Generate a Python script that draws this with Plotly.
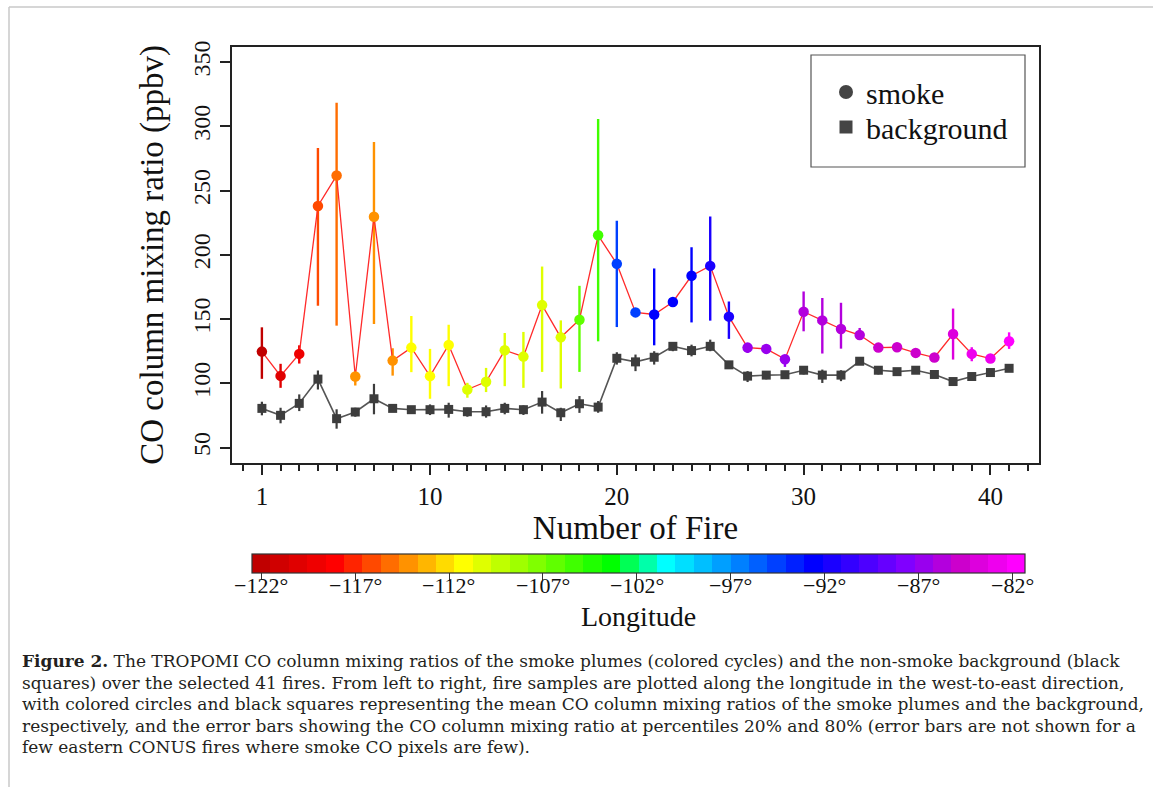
import plotly.graph_objects as go

# ---------------- data ----------------
fire_no = list(range(1, 42))

smoke_mean = [124.7, 105.8, 122.9, 238.0, 261.7, 105.3, 229.7, 117.7, 127.8, 105.6,
              129.9, 95.2, 101.2, 125.7, 120.8, 160.9, 135.8, 149.5, 215.2, 193.0,
              155.2, 153.6, 163.3, 183.7, 191.4, 151.9, 127.8, 126.8, 118.8, 155.7,
              149.0, 142.3, 137.6, 127.8, 128.1, 123.7, 120.1, 138.4, 122.9, 119.3,
              132.7]
smoke_p80 = [143.6, 115.2, 129.6, 283.2, 318.4, 108.7, 287.8, 127.3, 152.4, 126.8,
             145.6, 100.4, 112.0, 139.2, 140.0, 190.9, 149.0, 175.9, 305.7, 226.6,
             None, 189.4, None, 205.9, 229.9, 163.7, 130.1, None, 121.6, 171.5,
             166.4, 162.7, 143.1, None, None, None, None, 158.2, 128.1, None,
             139.7]
smoke_p20 = [103.5, 96.5, 115.4, 160.4, 144.9, 98.3, 146.2, 106.0, 108.7, 88.0,
             97.8, 88.8, 93.2, 97.8, 96.5, 108.9, 96.0, 108.9, 132.7, 143.8,
             None, 129.6, None, 147.4, 148.8, 134.6, 123.6, None, 112.8, 140.5,
             123.2, 127.0, 134.1, None, None, None, None, 118.5, 117.2, None,
             126.8]

bg_mean = [80.5, 75.1, 84.4, 103.3, 72.5, 77.7, 88.0, 80.5, 79.5, 79.5,
           79.7, 77.9, 77.9, 80.5, 79.5, 85.4, 77.1, 84.1, 81.5, 119.5,
           116.7, 120.3, 128.8, 125.5, 128.8, 114.4, 105.6, 106.4, 106.7, 110.2,
           106.4, 106.4, 117.2, 110.2, 109.1, 110.2, 106.9, 101.4, 105.3, 108.4,
           111.7]
bg_p80 = [85.7, 81.0, 91.4, 110.0, 79.8, 81.0, 99.6, 81.5, 80.5, 83.6,
          84.9, 81.0, 82.8, 84.9, 82.8, 94.0, 81.0, 90.1, 86.2, 124.2,
          122.4, 125.0, 131.4, 130.1, 134.0, 117.0, 109.5, 109.5, 109.2, 113.3,
          110.7, 110.2, None, 113.3, 111.0, 112.0, 108.5, 103.0, 107.0, 110.0,
          113.5]
bg_p20 = [75.1, 68.9, 78.4, 95.2, 64.7, 74.0, 75.9, 79.0, 78.5, 75.3,
          73.3, 74.0, 73.3, 75.9, 75.4, 76.4, 70.7, 77.0, 77.1, 114.6,
          109.5, 114.6, 125.0, 121.0, 125.0, 112.0, 101.0, 103.1, 103.5, 106.9,
          100.3, 101.7, None, 106.9, 107.5, 108.5, 105.5, 100.0, 103.5, 107.0,
          110.0]

# longitude of each fire
fire_lon = [-121.6, -120.1, -119.1, -116.1, -115.1, -114.5, -114.3, -113.9, -111.5, -111.3,
            -111.0, -110.6, -110.4, -110.2, -110.0, -109.9, -109.8, -106.3, -105.3, -94.5,
            -94.3, -92.9, -92.6, -92.3, -91.9, -91.5, -87.1, -86.8, -86.4, -86.1,
            -85.9, -85.6, -85.4, -85.1, -84.8, -84.5, -84.4, -83.8, -83.0, -82.5,
            -81.8]

lon_ticks = [-122, -117, -112, -107, -102, -97, -92, -87, -82]
y_ticks = [50, 100, 150, 200, 250, 300, 350]
x_ticks = [1, 10, 20, 30, 40]

caption_lines = [
    "<b>Figure 2.</b> The TROPOMI CO column mixing ratios of the smoke plumes (colored cycles) and the non-smoke background (black",
    "squares) over the selected 41 fires. From left to right, fire samples are plotted along the longitude in the west-to-east direction,",
    "with colored circles and black squares representing the mean CO column mixing ratios of the smoke plumes and the background,",
    "respectively, and the error bars showing the CO column mixing ratio at percentiles 20% and 80% (error bars are not shown for a",
    "few eastern CONUS fires where smoke CO pixels are few).",
]

# ---------------- discrete rainbow palette for the colour bar ----------------
N_BINS = 42
CMIN = -122.5
BW = 0.98
CMAX = CMIN + N_BINS * BW
anchors = {0: (192, 0, 0), 4: (255, 0, 0), 11: (255, 255, 0), 19: (0, 255, 0),
           22: (0, 255, 255), 30: (0, 0, 255), 35: (128, 0, 255), 38: (204, 0, 204),
           41: (255, 0, 255)}
akeys = sorted(anchors)


def bin_rgb(b):
    for k0, k1 in zip(akeys[:-1], akeys[1:]):
        if k0 <= b <= k1:
            t = (b - k0) / (k1 - k0)
            c0, c1 = anchors[k0], anchors[k1]
            return tuple(round(c0[i] + (c1[i] - c0[i]) * t) for i in range(3))
    return anchors[akeys[-1]]


bin_colors = ["rgb(%d,%d,%d)" % bin_rgb(b) for b in range(N_BINS)]
colorscale = []
for i, c in enumerate(bin_colors):
    colorscale.append([i / N_BINS, c])
    colorscale.append([(i + 1) / N_BINS, c])


def lon_color(lon):
    b = int((lon - CMIN) / BW)
    b = max(0, min(N_BINS - 1, b))
    return bin_colors[b]


# ---------------- figure ----------------
W, H = 1153, 787
fig = go.Figure()

DARK = "#3d3d3d"

# colour bar geometry (pixels)
CB_X0, CB_X1 = 251.7, 1025.0
CB_TOP, CB_THICK = 554.0, 19.4

# background line
fig.add_trace(go.Scatter(x=fire_no, y=bg_mean, mode="lines",
                         line=dict(color="#555555", width=1.6),
                         showlegend=False, hoverinfo="skip"))
# background error bars + squares
plus = [(h - m) if h is not None else 0 for h, m in zip(bg_p80, bg_mean)]
minus = [(m - l) if l is not None else 0 for l, m in zip(bg_p20, bg_mean)]
fig.add_trace(go.Scatter(x=fire_no, y=bg_mean, mode="markers",
                         marker=dict(symbol="square", size=9, color=DARK),
                         error_y=dict(type="data", array=plus, arrayminus=minus,
                                      color=DARK, thickness=2.2, width=0),
                         showlegend=False, hoverinfo="skip"))

# smoke error bars (coloured per fire)
for n, lo, hi, lon in zip(fire_no, smoke_p20, smoke_p80, fire_lon):
    if lo is None or hi is None:
        continue
    fig.add_trace(go.Scatter(x=[n, n], y=[lo, hi], mode="lines",
                             line=dict(color=lon_color(lon), width=2.4),
                             showlegend=False, hoverinfo="skip"))

# smoke line
fig.add_trace(go.Scatter(x=fire_no, y=smoke_mean, mode="lines",
                         line=dict(color="#ff2a2a", width=1.3),
                         showlegend=False, hoverinfo="skip"))

# smoke markers coloured by longitude (with colour bar)
fig.add_trace(go.Scatter(
    x=fire_no, y=smoke_mean, mode="markers",
    marker=dict(size=10.5, color=fire_lon, colorscale=colorscale, cmin=CMIN, cmax=CMAX,
                line=dict(width=0),
                showscale=True,
                colorbar=dict(orientation="h",
                              x=(CB_X0 + CB_X1) / 2 / W, xanchor="center",
                              y=1 - CB_TOP / H, yanchor="top",
                              len=(CB_X1 - CB_X0) / W, lenmode="fraction",
                              thickness=CB_THICK, thicknessmode="pixels",
                              outlinewidth=1.2, outlinecolor="#333333",
                              ticks="outside", ticklen=7, tickwidth=1.2, tickcolor="#333333",
                              tickvals=lon_ticks, showticklabels=False,
                              xpad=0, ypad=0)),
    showlegend=False, hoverinfo="skip"))

# legend entries (two single-item legends so the spacing matches)
fig.add_trace(go.Scatter(x=[None], y=[None], mode="markers", name="smoke",
                         marker=dict(symbol="circle", size=14, color="#444444"),
                         legend="legend"))
fig.add_trace(go.Scatter(x=[None], y=[None], mode="markers", name="background",
                         marker=dict(symbol="square", size=13, color="#444444"),
                         legend="legend2"))

axis_font = dict(family="Liberation Serif", size=25, color="#111111")

fig.update_xaxes(domain=[232 / W, 1039 / W], range=[-0.6, 42.6],
                 showline=True, mirror=True, linecolor="#222222", linewidth=2,
                 ticks="outside", tickvals=x_ticks, ticklen=10, tickwidth=1.5, tickcolor="#222222",
                 minor=dict(dtick=1, tick0=0, ticks="outside", ticklen=6, tickwidth=1.5,
                            tickcolor="#222222", showgrid=False),
                 showgrid=False, zeroline=False, tickfont=axis_font,
                 title=dict(text="Number of Fire", standoff=0,
                            font=dict(family="Liberation Serif", size=33, color="#111111")))
fig.update_yaxes(domain=[1 - 463 / H, 1 - 46.7 / H], range=[38, 362],
                 showline=True, mirror=True, linecolor="#222222", linewidth=2,
                 ticks="outside", tickvals=y_ticks, ticklen=10, tickwidth=1.5, tickcolor="#222222",
                 tickangle=-90, showgrid=False, zeroline=False,
                 tickfont=dict(family="Liberation Serif", size=24, color="#111111"),
                 title=dict(text="CO column mixing ratio (ppbv)", standoff=16,
                            font=dict(family="Liberation Serif", size=33, color="#111111")))

annotations = []
# colour bar tick labels and title
for v in lon_ticks:
    xp = CB_X0 + (v - CMIN) / (CMAX - CMIN) * (CB_X1 - CB_X0)
    annotations.append(dict(text="\u2212%d\u00b0" % abs(v), x=xp / W, y=1 - 585 / H,
                            xref="paper", yref="paper", xanchor="center", yanchor="middle",
                            showarrow=False,
                            font=dict(family="Liberation Serif", size=22, color="#111111")))
annotations.append(dict(text="Longitude", x=(CB_X0 + CB_X1) / 2 / W, y=1 - 616 / H,
                        xref="paper", yref="paper", xanchor="center", yanchor="middle",
                        showarrow=False,
                        font=dict(family="Liberation Serif", size=28, color="#111111")))

y0 = 661
for i, line in enumerate(caption_lines):
    annotations.append(dict(text=line, x=20 / W, y=1 - (y0 + i * 21.6) / H,
                            xref="paper", yref="paper", xanchor="left", yanchor="middle",
                            showarrow=False, align="left",
                            font=dict(family="DejaVu Serif", size=17, color="#231f20")))

shapes = [
    # legend box
    dict(type="rect", xref="paper", yref="paper", x0=811 / W, x1=1025 / W,
         y0=1 - 167 / H, y1=1 - 55 / H, line=dict(color="#555555", width=1.2)),
    # page border
    dict(type="line", xref="paper", yref="paper", x0=9 / W, x1=9 / W, y0=0, y1=1 - 7 / H,
         line=dict(color="#c8c8c8", width=1.5)),
    dict(type="line", xref="paper", yref="paper", x0=9 / W, x1=1, y0=1 - 7 / H, y1=1 - 7 / H,
         line=dict(color="#c8c8c8", width=1.5)),
]

leg_common = dict(xanchor="left", yanchor="top", bgcolor="rgba(0,0,0,0)", borderwidth=0,
                  font=dict(family="Liberation Serif", size=30, color="#111111"))

fig.update_layout(
    width=W, height=H,
    margin=dict(l=0, r=0, t=0, b=0, autoexpand=False),
    paper_bgcolor="white", plot_bgcolor="white",
    font=dict(family="Liberation Serif", color="#111111"),
    legend=dict(x=826 / W, y=1 - 66 / H, **leg_common),
    legend2=dict(x=826 / W, y=1 - 101 / H, **leg_common),
    annotations=annotations,
    shapes=shapes,
)

fig.write_html("out.html")
